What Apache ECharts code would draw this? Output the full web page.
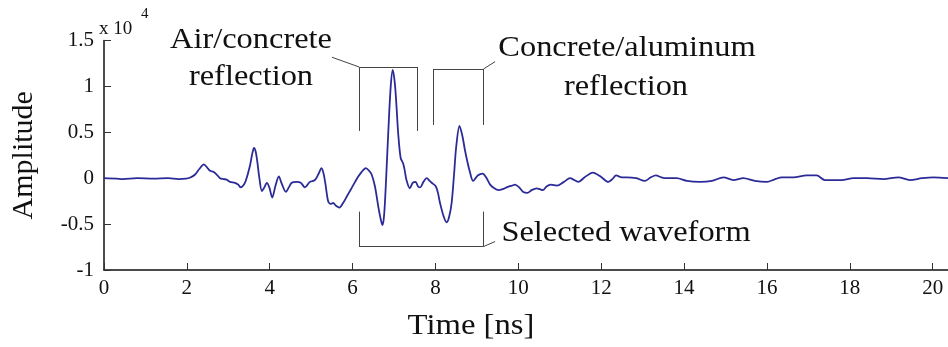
<!DOCTYPE html>
<html>
<head>
<meta charset="utf-8">
<script src="https://cdn.jsdelivr.net/npm/echarts@6/dist/echarts.min.js"></script>
<style>html,body{margin:0;padding:0;background:#fff}#c{width:948px;height:347px}</style>
</head>
<body>
<div id="c"></div>
<script>
// Time axis (ns)
const timeNs = [0.00,0.30,0.45,0.80,1.20,1.55,1.80,1.98,2.07,2.20,2.30,2.41,2.50,2.56,2.64,2.72,2.80,2.88,2.96,3.04,3.16,3.24,3.30,3.36,3.42,3.52,3.58,3.62,3.66,3.70,3.75,3.81,3.87,3.93,3.99,4.06,4.14,4.22,4.29,4.39,4.46,4.53,4.65,4.75,4.85,4.97,5.09,5.17,5.25,5.30,5.35,5.41,5.47,5.53,5.60,5.68,5.77,5.86,5.96,6.06,6.14,6.22,6.32,6.40,6.46,6.54,6.62,6.68,6.72,6.75,6.78,6.82,6.86,6.92,6.97,7.02,7.06,7.10,7.16,7.22,7.26,7.30,7.38,7.45,7.52,7.58,7.63,7.71,7.79,7.86,7.91,8.01,8.06,8.11,8.20,8.27,8.33,8.39,8.45,8.50,8.58,8.65,8.71,8.77,8.83,8.91,9.02,9.14,9.22,9.32,9.42,9.52,9.62,9.72,9.85,9.92,10.02,10.12,10.22,10.32,10.44,10.52,10.59,10.68,10.78,10.93,11.10,11.25,11.35,11.45,11.60,11.80,11.98,12.17,12.27,12.36,12.50,12.61,12.85,13.05,13.20,13.32,13.45,13.58,13.82,14.07,14.38,14.67,14.95,15.19,15.43,15.71,16.00,16.20,16.36,16.64,16.96,17.20,17.40,17.80,18.09,18.41,18.81,19.17,19.45,19.74,20.02,20.37];
// Amplitude (x 10^4)
const amplitude = [0.00,-0.005,-0.01,0.00,-0.005,0.00,-0.01,-0.005,0.005,0.04,0.10,0.15,0.11,0.08,0.07,0.04,0.00,-0.01,-0.015,-0.04,-0.05,-0.07,-0.10,-0.08,-0.03,0.13,0.27,0.33,0.29,0.18,0.00,-0.14,-0.10,-0.05,-0.10,-0.21,-0.08,0.02,-0.06,-0.15,-0.10,-0.05,-0.04,-0.05,-0.10,-0.04,-0.02,0.04,0.11,0.05,-0.08,-0.25,-0.28,-0.27,-0.30,-0.32,-0.27,-0.20,-0.12,-0.04,0.02,0.07,0.11,0.08,0.04,-0.09,-0.31,-0.45,-0.51,-0.45,-0.27,0.10,0.49,1.00,1.18,1.03,0.78,0.49,0.22,0.16,0.08,-0.02,-0.11,-0.05,-0.04,-0.09,-0.10,-0.04,0.00,-0.03,-0.05,-0.09,-0.16,-0.27,-0.42,-0.48,-0.42,-0.27,0.05,0.34,0.57,0.46,0.31,0.18,0.07,-0.03,0.03,0.05,0.01,-0.07,-0.11,-0.13,-0.12,-0.10,-0.08,-0.07,-0.10,-0.15,-0.16,-0.13,-0.11,-0.12,-0.13,-0.09,-0.07,-0.08,-0.04,0.00,-0.02,-0.04,0.01,0.06,0.02,-0.04,-0.01,0.03,0.01,0.01,0.00,-0.03,0.01,0.03,0.01,0.00,0.00,-0.03,-0.04,-0.03,0.01,-0.02,0.00,-0.03,-0.04,-0.01,0.01,0.01,0.03,0.03,-0.02,-0.02,0.00,0.00,-0.01,0.01,-0.02,0.00,0.01,0.00];
const xTicks = [0,2,4,6,8,10,12,14,16,18,20];
const yTicks = [-1,-0.5,0,0.5,1,1.5];

// Bracket annotation segments (in data coordinates)
const bracketSegments = [
  [[5.50,1.318],[6.155,1.212]],
  [[6.155,1.212],[6.155,0.515]],
  [[6.155,1.212],[7.56,1.212]],
  [[7.56,1.212],[7.56,0.515]],
  [[7.94,1.19],[7.94,0.58]],
  [[7.94,1.19],[9.16,1.19]],
  [[9.16,1.19],[9.16,0.58]],
  [[9.16,1.19],[9.44,1.27]],
  [[6.155,-0.364],[6.155,-0.745]],
  [[6.155,-0.745],[9.16,-0.745]],
  [[9.16,-0.364],[9.16,-0.745]],
  [[9.16,-0.745],[9.44,-0.69]]
];

const serif = '"Liberation Serif", "Times New Roman", serif';
const chart = echarts.init(document.getElementById('c'), null, {renderer: 'canvas'});
const data = timeNs.map((t, i) => [t, amplitude[i]]);

function label(text, x, y, size, sx) {
  return {type: 'text', x: x, y: y, scaleX: sx || 1,
    style: {text: text, font: size + 'px ' + serif, fill: '#111', align: 'center', verticalAlign: 'middle'}};
}

chart.setOption({
  animation: false,
  backgroundColor: '#fff',
  grid: {left: 104, right: 0, top: 40.5, bottom: 77, containLabel: false, outerBoundsMode: 'none'},
  xAxis: {
    type: 'value', min: 0, max: 20.37,
    axisLine: {show: true, onZero: false, lineStyle: {color: '#111', width: 1.5}},
    axisTick: {show: true, inside: true, length: 7, customValues: xTicks, lineStyle: {color: '#333', width: 1}},
    axisLabel: {customValues: xTicks, fontFamily: serif, fontSize: 21, color: '#111', margin: 8},
    splitLine: {show: false}
  },
  yAxis: {
    type: 'value', min: -1, max: 1.5, interval: 0.5,
    name: 'Amplitude', nameLocation: 'middle', nameGap: 65, nameRotate: 90,
    nameTextStyle: {fontFamily: serif, fontSize: 30, color: '#111'},
    axisLine: {show: true, onZero: false, lineStyle: {color: '#111', width: 1.5}},
    axisTick: {show: true, inside: true, length: 7, lineStyle: {color: '#333', width: 1}},
    axisLabel: {fontFamily: serif, fontSize: 21, color: '#111', margin: 10},
    splitLine: {show: false}
  },
  series: [{
    type: 'line',
    data: data,
    smooth: 0.3,
    showSymbol: false,
    symbol: 'none',
    lineStyle: {color: '#2b2b98', width: 1.8},
    markLine: {
      silent: true,
      symbol: ['none', 'none'],
      label: {show: false},
      lineStyle: {color: '#444', width: 1, type: 'solid'},
      data: bracketSegments.map(s => [{coord: s[0]}, {coord: s[1]}])
    }
  }],
  graphic: [
    {type: 'text', x: 99, y: 29, style: {text: 'x 10', font: '19px ' + serif, fill: '#111', verticalAlign: 'middle'}},
    {type: 'text', x: 141, y: 14, style: {text: '4', font: '15px ' + serif, fill: '#111', verticalAlign: 'middle'}},
    label('Air/concrete', 251, 40, 30, 1.08),
    label('reflection', 251, 77, 30, 1.08),
    label('Concrete/aluminum', 627, 48, 30, 1.08),
    label('reflection', 626, 87, 30, 1.08),
    label('Selected waveform', 626, 233, 30, 1.08),
    label('Time [ns]', 471, 326, 30, 1.09)
  ]
});
</script>
</body>
</html>
